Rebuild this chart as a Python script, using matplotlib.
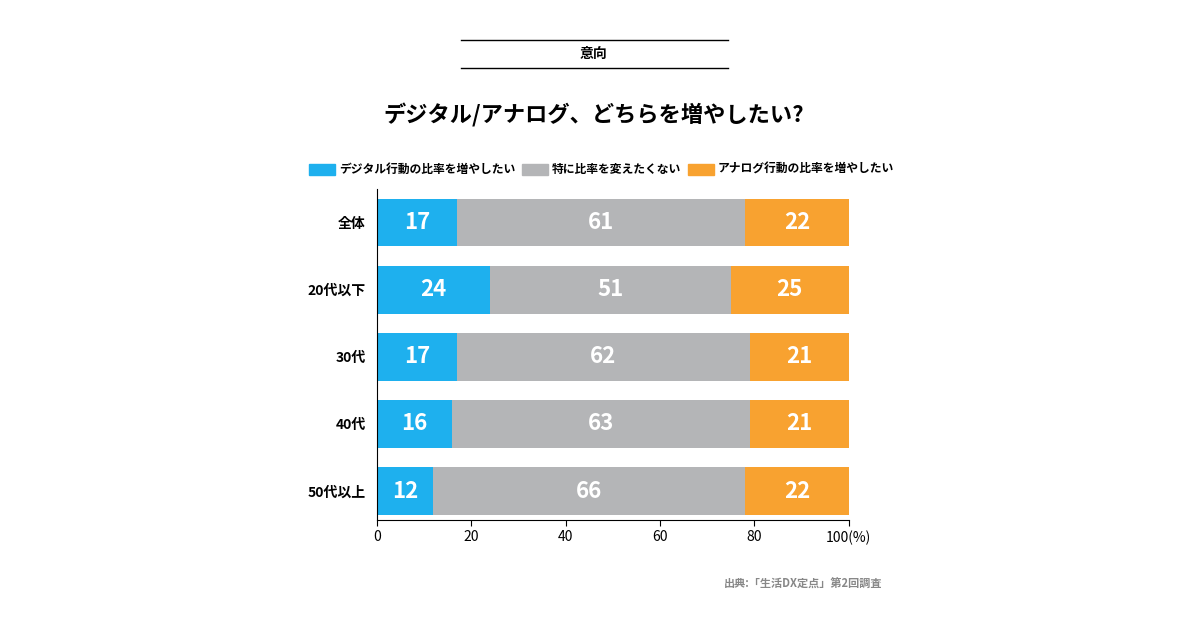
import matplotlib.pyplot as plt
from matplotlib.patches import Rectangle
from matplotlib.lines import Line2D

plt.rcParams['font.family'] = ['Noto Sans CJK JP', 'DejaVu Sans']

groups = ['全体', '20代以下', '30代', '40代', '50代以上']
digital = [17, 24, 17, 16, 12]
neutral = [61, 51, 62, 63, 66]
analog = [22, 25, 21, 21, 22]
series_names = ['デジタル行動の比率を増やしたい', '特に比率を変えたくない', 'アナログ行動の比率を増やしたい']
colors = ['#1EB0EE', '#B4B5B7', '#F8A230']

fig = plt.figure(figsize=(12, 6.28), dpi=100)
ax = fig.add_axes([0.314, 0.172, 0.3933, 0.527])

ypos = list(range(len(groups)))
left = [0] * len(groups)
for vals, c in zip([digital, neutral, analog], colors):
    ax.barh(ypos, vals, left=left, height=0.71, color=c)
    for y, v, l in zip(ypos, vals, left):
        ax.text(l + v / 2, y, str(v), ha='center', va='center', color='white',
                fontsize=16, fontweight='bold')
    left = [a + b for a, b in zip(left, vals)]

ax.set_xlim(0, 100)
ax.set_ylim(4.43, -0.5)
ax.set_yticks(ypos)
ax.set_yticklabels(groups, fontsize=10, fontweight='bold')
ax.set_xticks([0, 20, 40, 60, 80, 100])
ax.set_xticklabels(['0', '20', '40', '60', '80', '100(%)'], fontsize=10)
ax.tick_params(axis='y', length=0, pad=8)
ax.tick_params(axis='x', length=4, direction='out')
for s in ['top', 'right']:
    ax.spines[s].set_visible(False)

# header
fig.add_artist(Line2D([461 / 1200, 728 / 1200], [1 - 40 / 628] * 2, color='black', lw=1))
fig.add_artist(Line2D([461 / 1200, 728 / 1200], [1 - 68 / 628] * 2, color='black', lw=1))
fig.text(594 / 1200, 1 - 54 / 628, '意向', ha='center', va='center', fontsize=10, fontweight='bold')
fig.text(594 / 1200, 1 - 115 / 628, 'デジタル/アナログ、どちらを増やしたい?', ha='center', va='center',
         fontsize=16, fontweight='bold')

# legend
lx = [309, 522, 688]
for x, name, c in zip(lx, series_names, colors):
    fig.add_artist(Rectangle((x / 1200, 1 - 175 / 628), 26 / 1200, 11 / 628, color=c,
                             transform=fig.transFigure))
    fig.text((x + 30) / 1200, 1 - 169.5 / 628, name, va='center', fontsize=8.5, fontweight='bold')

fig.text(882 / 1200, 1 - 584 / 628, '出典:「生活DX定点」第2回調査', ha='right', va='center',
         fontsize=8, color='#888888', fontweight='bold')

fig.savefig('out.png')
